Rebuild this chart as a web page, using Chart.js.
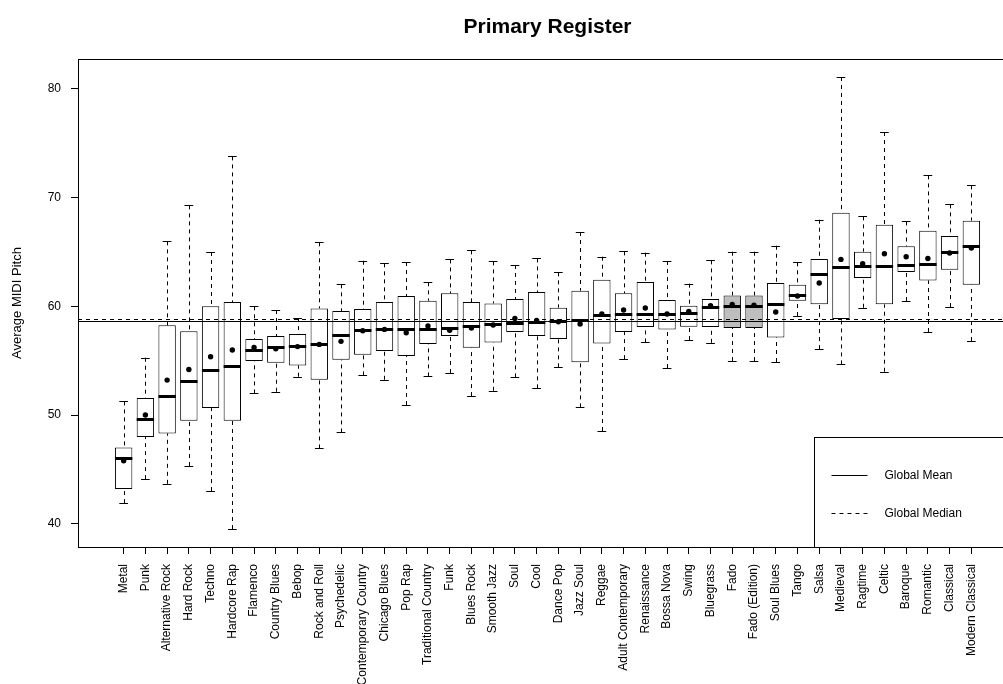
<!DOCTYPE html>
<html>
<head>
<meta charset="utf-8">
<script src="https://cdn.jsdelivr.net/npm/chart.js@4.4.1/dist/chart.umd.min.js"></script>
<style>
  html, body { margin: 0; padding: 0; background: #fff; width: 1003px; height: 684px; overflow: hidden; }
  canvas { display: block; }
</style>
</head>
<body>
<canvas id="chart" width="1040" height="684"></canvas>
<script>
// Genres, ordered by median pitch
const genres = [
  'Metal', 'Punk', 'Alternative Rock', 'Hard Rock', 'Techno', 'Hardcore Rap',
  'Flamenco', 'Country Blues', 'Bebop', 'Rock and Roll', 'Psychedelic',
  'Contemporary Country', 'Chicago Blues', 'Pop Rap', 'Traditional Country',
  'Funk', 'Blues Rock', 'Smooth Jazz', 'Soul', 'Cool', 'Dance Pop', 'Jazz Soul',
  'Reggae', 'Adult Contemporary', 'Renaissance', 'Bossa Nova', 'Swing',
  'Bluegrass', 'Fado', 'Fado (Edition)', 'Soul Blues', 'Tango', 'Salsa',
  'Medieval', 'Ragtime', 'Celtic', 'Baroque', 'Romantic', 'Classical',
  'Modern Classical'
];

// Five-number summaries of the average MIDI pitch per genre
const lowWhisker = [
  41.92, 44.12, 43.69, 45.32, 43.02, 39.53, 52.00, 52.15, 53.53, 46.94,
  48.41, 53.65, 53.25, 50.93, 53.56, 53.87, 51.75, 52.24, 53.47, 52.46,
  54.39, 50.71, 48.54, 55.15, 56.68, 54.33, 56.90, 56.65, 54.97, 54.97,
  54.88, 59.11, 56.07, 54.66, 59.87, 53.99, 60.49, 57.64, 59.93, 56.81
];
const lowerQuartile = [
  43.20, 47.98, 48.32, 49.49, 50.65, 49.49, 54.97, 54.82, 54.57, 53.25,
  55.09, 55.55, 55.89, 55.43, 56.53, 57.27, 56.19, 56.68, 57.63, 57.27,
  56.99, 54.85, 56.59, 57.63, 58.10, 57.88, 58.12, 58.10, 58.00, 58.00,
  57.14, 60.51, 60.18, 58.83, 62.60, 60.18, 63.15, 62.38, 63.36, 61.99
];
const medians = [
  46.05, 49.67, 51.78, 53.10, 54.11, 54.48, 55.98, 56.26, 56.32, 56.56,
  57.33, 57.85, 57.88, 57.88, 57.94, 58.03, 58.19, 58.40, 58.46, 58.58,
  58.68, 58.71, 59.23, 59.29, 59.32, 59.32, 59.35, 59.93, 59.99, 59.99,
  60.21, 61.07, 63.00, 63.64, 63.67, 63.67, 63.80, 63.92, 65.02, 65.51
];
const upperQuartile = [
  47.03, 51.57, 58.25, 57.70, 60.00, 60.39, 56.99, 57.27, 57.45, 59.81,
  59.57, 59.75, 60.39, 60.95, 60.51, 61.19, 60.39, 60.27, 60.67, 61.31,
  59.87, 61.43, 62.44, 61.19, 62.23, 60.58, 60.06, 60.67, 61.00, 61.00,
  62.14, 61.99, 64.35, 68.60, 65.02, 67.50, 65.51, 66.95, 66.46, 67.87
];
const highWhisker = [
  51.26, 55.28, 65.97, 69.28, 64.99, 73.78, 60.00, 59.66, 58.92, 65.88,
  62.02, 64.19, 63.95, 64.07, 62.20, 64.31, 65.14, 64.13, 63.80, 64.40,
  63.12, 66.83, 64.56, 65.05, 64.93, 64.16, 62.08, 64.22, 65.02, 65.02,
  65.57, 64.04, 67.96, 81.07, 68.27, 76.02, 67.80, 72.03, 69.37, 71.11
];
const means = [
  45.81, 50.01, 53.22, 54.20, 55.37, 55.98, 56.22, 56.10, 56.30, 56.50,
  56.78, 57.76, 57.88, 57.57, 58.19, 57.79, 58.00, 58.28, 58.89, 58.70,
  58.58, 58.37, 59.29, 59.66, 59.84, 59.29, 59.53, 60.06, 60.17, 60.10,
  59.48, 60.95, 62.14, 64.31, 63.92, 64.83, 64.56, 64.40, 64.90, 65.36
];

// Genres whose boxes are shaded
const shadedGenres = ['Fado', 'Fado (Edition)'];

// Pitch statistics over all genres
const globalMean = 58.68;
const globalMedian = 58.86;

const yTickValues = [40, 50, 60, 70, 80];
const legendLabels = ['Global Mean', 'Global Median'];

const FONT = "'Liberation Sans', Arial, Helvetica, sans-serif";
const BOX_HALF = 0.4;     // half box width, in category units
const STAPLE_HALF = 0.2;  // half whisker cap width, in category units

Chart.defaults.font.family = FONT;
Chart.defaults.color = '#000';

const crisp = v => Math.round(v) + 0.5;

const boxplotParts = {
  id: 'boxplotParts',
  beforeDatasetsDraw(chart) {
    const { ctx, scales: { x, y } } = chart;
    ctx.save();
    ctx.strokeStyle = '#000';
    ctx.lineWidth = 1;
    genres.forEach((g, i) => {
      const px = crisp(x.getPixelForValue(i + 1));
      const yMax = y.getPixelForValue(highWhisker[i]);
      const yQ3 = y.getPixelForValue(upperQuartile[i]);
      const yQ1 = y.getPixelForValue(lowerQuartile[i]);
      const yMin = y.getPixelForValue(lowWhisker[i]);
      // dashed whiskers
      ctx.setLineDash([4, 4]);
      ctx.beginPath();
      ctx.moveTo(px, yMax); ctx.lineTo(px, yQ3);
      ctx.moveTo(px, yMin); ctx.lineTo(px, yQ1);
      ctx.stroke();
      // caps
      ctx.setLineDash([]);
      const l = x.getPixelForValue(i + 1 - STAPLE_HALF);
      const r = x.getPixelForValue(i + 1 + STAPLE_HALF);
      ctx.beginPath();
      ctx.moveTo(l, crisp(yMax)); ctx.lineTo(r, crisp(yMax));
      ctx.moveTo(l, crisp(yMin)); ctx.lineTo(r, crisp(yMin));
      ctx.stroke();
    });
    ctx.restore();
  },
  afterDatasetDraw(chart, args) {
    if (args.index !== 0) return;
    const { ctx, chartArea, scales: { x, y } } = chart;
    ctx.save();
    ctx.strokeStyle = '#000';
    // medians
    ctx.lineWidth = 3;
    genres.forEach((g, i) => {
      const l = x.getPixelForValue(i + 1 - BOX_HALF);
      const r = x.getPixelForValue(i + 1 + BOX_HALF);
      const ym = Math.round(y.getPixelForValue(medians[i])) + 0.5;
      ctx.beginPath();
      ctx.moveTo(l, ym); ctx.lineTo(r, ym);
      ctx.stroke();
    });
    // global reference lines
    ctx.lineWidth = 1;
    const yMean = crisp(y.getPixelForValue(globalMean));
    ctx.beginPath();
    ctx.moveTo(chartArea.left, yMean); ctx.lineTo(chartArea.right, yMean);
    ctx.stroke();
    const yMed = crisp(y.getPixelForValue(globalMedian));
    ctx.setLineDash([4, 4]);
    ctx.beginPath();
    ctx.moveTo(chartArea.left, yMed); ctx.lineTo(chartArea.right, yMed);
    ctx.stroke();
    ctx.restore();
  },
  afterDraw(chart) {
    const { ctx, chartArea: a } = chart;
    ctx.save();
    ctx.strokeStyle = '#000';
    ctx.lineWidth = 1;
    // plot frame
    ctx.strokeRect(crisp(a.left), crisp(a.top), Math.round(a.right - a.left), Math.round(a.bottom - a.top));
    // legend, anchored to the bottom-right corner of the plot
    const w = 203, h = 110;
    const lx = crisp(a.right - w), ly = crisp(a.bottom - h);
    ctx.fillStyle = '#fff';
    ctx.fillRect(lx, ly, w, h);
    ctx.strokeRect(lx, ly, w, h);
    const rows = [ly + 37.5, ly + 75];
    legendLabels.forEach((label, k) => {
      const yy = Math.round(rows[k]) + 0.5;
      ctx.setLineDash(k === 0 ? [] : [4, 4]);
      ctx.beginPath();
      ctx.moveTo(lx + 17, yy); ctx.lineTo(lx + 53, yy);
      ctx.stroke();
      ctx.setLineDash([]);
      ctx.fillStyle = '#000';
      ctx.font = '12px ' + FONT;
      ctx.textBaseline = 'middle';
      ctx.textAlign = 'left';
      ctx.fillText(label, lx + 70, yy);
    });
    ctx.restore();
  }
};

new Chart(document.getElementById('chart'), {
  type: 'bar',
  data: {
    datasets: [
      {
        type: 'bar',
        label: 'Interquartile range',
        data: genres.map((g, i) => ({ x: i + 1, y: [lowerQuartile[i], upperQuartile[i]] })),
        backgroundColor: c => shadedGenres.includes(genres[c.dataIndex]) ? '#bebebe' : '#ffffff',
        borderColor: '#000',
        borderWidth: 1,
        borderSkipped: false,
        categoryPercentage: 2 * BOX_HALF,
        barPercentage: 1,
        order: 2
      },
      {
        type: 'scatter',
        label: 'Mean',
        data: genres.map((g, i) => ({ x: i + 1, y: means[i] })),
        pointRadius: 2.7,
        pointBackgroundColor: '#000',
        pointBorderWidth: 0,
        order: 0
      }
    ]
  },
  options: {
    responsive: false,
    animation: false,
    devicePixelRatio: 1,
    events: [],
    layout: { padding: { left: 0, right: 23, top: 0, bottom: 0 } },
    plugins: {
      legend: { display: false },
      tooltip: { enabled: false },
      title: {
        display: true,
        text: 'Primary Register',
        fullSize: false,
        color: '#000',
        font: { size: 21, weight: 'bold', family: FONT, lineHeight: 1.2 },
        padding: { top: 14.4, bottom: 19.4 }
      }
    },
    scales: {
      x: {
        type: 'linear',
        min: -1.1,
        max: 42.1,
        offset: false,
        afterBuildTicks: s => { s.ticks = genres.map((g, i) => ({ value: i + 1 })); },
        afterFit: s => { s.height = 137; },
        ticks: {
          autoSkip: false,
          minRotation: 90,
          maxRotation: 90,
          padding: 10,
          font: { size: 12 },
          callback: v => genres[v - 1]
        },
        grid: { display: true, offset: false, drawOnChartArea: false, drawTicks: true, tickLength: 7, color: '#000' },
        border: { display: false }
      },
      y: {
        type: 'linear',
        min: 37.88,
        max: 82.73,
        afterBuildTicks: s => { s.ticks = yTickValues.map(v => ({ value: v })); },
        afterFit: s => { s.width = 78; },
        ticks: { padding: 10, font: { size: 12 }, color: '#000' },
        grid: { display: true, drawOnChartArea: false, drawTicks: true, tickLength: 7, color: '#000' },
        border: { display: false },
        title: {
          display: true,
          text: 'Average MIDI Pitch',
          font: { size: 13 },
          padding: { top: 9.7, bottom: 0 }
        }
      }
    }
  },
  plugins: [boxplotParts]
});
</script>
</body>
</html>
